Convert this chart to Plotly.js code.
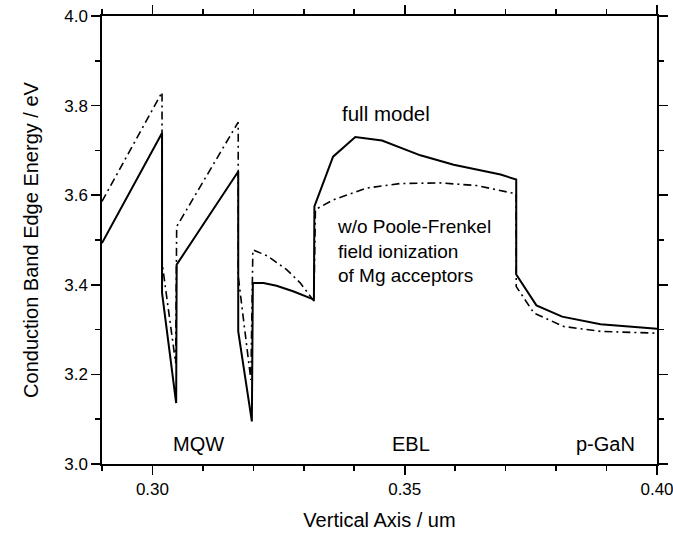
<!DOCTYPE html>
<html>
<head>
<meta charset="utf-8">
<script src="https://cdn.plot.ly/plotly-3.0.1.min.js"></script>
<style>html,body{margin:0;padding:0;background:#fff;}#chart{width:673px;height:533px;}</style>
</head>
<body>
<div id="chart"></div>
<script>
// Full model (solid line)
const fullX = [0.2900, 0.3019, 0.3019, 0.3047, 0.3048, 0.3170, 0.3170, 0.3197, 0.3199, 0.3220, 0.3246, 0.3280, 0.3320, 0.3321, 0.3358, 0.3402, 0.3455, 0.3531, 0.3597, 0.3690, 0.3721, 0.3721, 0.3761, 0.3812, 0.3888, 0.4000];
const fullY = [3.493, 3.739, 3.382, 3.136, 3.445, 3.653, 3.296, 3.095, 3.404, 3.404, 3.398, 3.385, 3.367, 3.575, 3.686, 3.730, 3.722, 3.689, 3.668, 3.646, 3.635, 3.423, 3.354, 3.329, 3.312, 3.302];
// w/o Poole-Frenkel field ionization (dash-dot line)
const woX = [0.2900, 0.3019, 0.3019, 0.3046, 0.3048, 0.3170, 0.3170, 0.3195, 0.3199, 0.3227, 0.3266, 0.3293, 0.3320, 0.3323, 0.3359, 0.3425, 0.3491, 0.3570, 0.3643, 0.3713, 0.3721, 0.3721, 0.3756, 0.3815, 0.3888, 0.4000];
const woY = [3.586, 3.830, 3.450, 3.225, 3.530, 3.763, 3.419, 3.188, 3.478, 3.465, 3.434, 3.404, 3.364, 3.568, 3.590, 3.616, 3.626, 3.6275, 3.6215, 3.605, 3.603, 3.396, 3.337, 3.307, 3.296, 3.292];
// Region labels
const regionText = ["MQW", "EBL", "p-GaN"];
const regionX = [0.3091, 0.3513, 0.3897];
const regionY = [3.045, 3.045, 3.045];
const xTickVals = [0.30, 0.35, 0.40];
const xTickText = ["0.30", "0.35", "0.40"];
const yTickVals = [3.0, 3.2, 3.4, 3.6, 3.8, 4.0];
const yTickText = ["3.0", "3.2", "3.4", "3.6", "3.8", "4.0"];

const FONT = "Arial, 'Liberation Sans', sans-serif";

const traces = [
  {x: fullX, y: fullY, mode: "lines", line: {color: "#000", width: 2}, name: "full model", showlegend: false},
  {x: woX, y: woY, mode: "lines", line: {color: "#000", width: 1.6, dash: "8px,4px,2px,4px"}, name: "w/o Poole-Frenkel", showlegend: false},
  // invisible copies so that the mirrored top/right axes are drawn
  {x: fullX, y: fullY, xaxis: "x2", yaxis: "y", mode: "lines", opacity: 0, line: {width: 0}, hoverinfo: "skip", showlegend: false},
  {x: fullX, y: fullY, xaxis: "x", yaxis: "y2", mode: "lines", opacity: 0, line: {width: 0}, hoverinfo: "skip", showlegend: false}
];

const annotations = regionText.map((t, i) => ({
  x: regionX[i], y: regionY[i], xref: "x", yref: "y", text: t, showarrow: false,
  xanchor: "center", yanchor: "middle", font: {family: FONT, size: 20, color: "#000"}
}));
annotations.push({x: 0.3372, y: 3.7825, xref: "x", yref: "y", text: "full model", showarrow: false,
  xanchor: "left", yanchor: "middle", font: {family: FONT, size: 20.5, color: "#000"}});
annotations.push({x: 0.3362, y: 3.476, xref: "x", yref: "y", text: "w/o Poole-Frenkel<br>field ionization<br>of Mg acceptors", showarrow: false,
  xanchor: "left", yanchor: "middle", align: "left", font: {family: FONT, size: 19, color: "#000"}});

const axisCommon = {
  showgrid: false, zeroline: false, showline: true, linecolor: "#000", linewidth: 1.6,
  ticks: "outside", ticklen: 9, tickwidth: 1.6, tickcolor: "#000",
  tickfont: {family: FONT, size: 17, color: "#000"}, ticklabeloverflow: "allow"
};
const xMinor = {dtick: 0.01, tick0: 0.29, ticks: "outside", ticklen: 5, tickwidth: 1.6, tickcolor: "#000"};
const yMinor = {dtick: 0.1, tick0: 3.0, ticks: "outside", ticklen: 5, tickwidth: 1.6, tickcolor: "#000"};

const layout = {
  width: 673, height: 533,
  margin: {l: 102, r: 16, t: 16, b: 69},
  paper_bgcolor: "#fff", plot_bgcolor: "#fff",
  showlegend: false,
  xaxis: Object.assign({}, axisCommon, {
    range: [0.29, 0.40], tickvals: xTickVals, ticktext: xTickText, minor: xMinor,
    title: {text: "Vertical Axis / um", font: {family: FONT, size: 20, color: "#000"}, standoff: 15}
  }),
  yaxis: Object.assign({}, axisCommon, {
    range: [3.0, 4.0], tickvals: yTickVals, ticktext: yTickText, minor: yMinor,
    title: {text: "Conduction Band Edge Energy / eV", font: {family: FONT, size: 20, color: "#000"}, standoff: 20}
  }),
  xaxis2: Object.assign({}, axisCommon, {
    overlaying: "x", side: "top", anchor: "y", range: [0.29, 0.40], tickvals: xTickVals,
    showticklabels: false, minor: xMinor
  }),
  yaxis2: Object.assign({}, axisCommon, {
    overlaying: "y", side: "right", anchor: "x", range: [3.0, 4.0], tickvals: yTickVals,
    showticklabels: false, minor: yMinor
  }),
  annotations: annotations
};

Plotly.newPlot("chart", traces, layout, {staticPlot: true, displayModeBar: false});
</script>
</body>
</html>
